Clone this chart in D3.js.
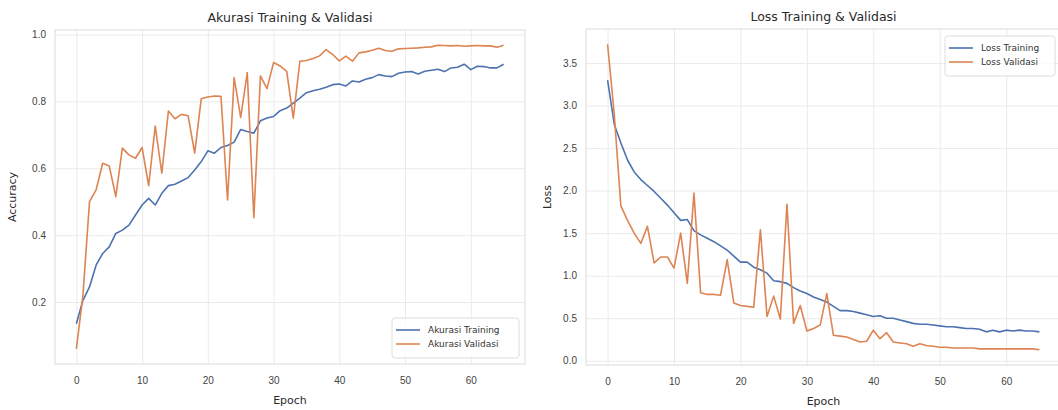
<!DOCTYPE html>
<html>
<head>
<meta charset="utf-8">
<script src="https://cdn.jsdelivr.net/npm/d3@7"></script>
<style>
  body { margin: 0; background: #fff; }
  svg { display: block; font-family: "DejaVu Sans", sans-serif; }
  .grid line { stroke: #ebebeb; stroke-width: 1; }
  .tick text { fill: #444; font-size: 10px; }
  .title { fill: #2a2a2a; font-size: 12.5px; }
  .label { fill: #2a2a2a; font-size: 11px; }
  .legend text { fill: #333; font-size: 9px; }
</style>
</head>
<body>
<svg width="1058" height="410"></svg>
<script>
// Akurasi per epoch (0..65)
const trainAcc = [
  0.135, 0.205, 0.245, 0.31, 0.345, 0.365, 0.405, 0.415, 0.43, 0.46,
  0.49, 0.51, 0.49, 0.525, 0.548, 0.552, 0.562, 0.572, 0.595, 0.62,
  0.652, 0.645, 0.662, 0.668, 0.678, 0.716, 0.71, 0.705, 0.742, 0.75,
  0.755, 0.772, 0.78, 0.795, 0.81, 0.826, 0.832, 0.836, 0.842, 0.85,
  0.852, 0.846, 0.861, 0.858, 0.866, 0.871, 0.88, 0.876, 0.874, 0.884,
  0.888, 0.889, 0.882, 0.89, 0.893, 0.896, 0.889, 0.9, 0.902, 0.911,
  0.895, 0.905, 0.904, 0.9, 0.9, 0.911
];
const valAcc = [
  0.06, 0.22, 0.5, 0.535, 0.615, 0.607, 0.515, 0.66, 0.64, 0.63,
  0.662, 0.548, 0.726, 0.585, 0.771, 0.748, 0.761, 0.757, 0.645, 0.808,
  0.813, 0.816, 0.815, 0.505, 0.871, 0.752, 0.886, 0.452, 0.876, 0.838,
  0.916, 0.906, 0.89, 0.75, 0.92, 0.922, 0.928, 0.936, 0.955, 0.94,
  0.921, 0.935, 0.92, 0.945, 0.948, 0.953, 0.959, 0.952, 0.95, 0.957,
  0.958, 0.959, 0.96, 0.962, 0.963, 0.968, 0.967, 0.966, 0.967, 0.965,
  0.966, 0.967, 0.966, 0.966, 0.962, 0.968
];
// Loss per epoch
const trainLoss = [
  3.30, 2.78, 2.56, 2.36, 2.22, 2.13, 2.06, 1.99, 1.91, 1.83,
  1.74, 1.65, 1.66, 1.53, 1.48, 1.44, 1.40, 1.35, 1.30, 1.23,
  1.16, 1.16, 1.10, 1.07, 1.03, 0.94, 0.93, 0.91, 0.86, 0.82,
  0.79, 0.75, 0.72, 0.69, 0.64, 0.59, 0.59, 0.58, 0.56, 0.54,
  0.52, 0.53, 0.50, 0.50, 0.48, 0.46, 0.44, 0.43, 0.43, 0.42,
  0.41, 0.40, 0.40, 0.39, 0.38, 0.38, 0.37, 0.34, 0.36, 0.34,
  0.36, 0.35, 0.36, 0.35, 0.35, 0.34
];
const valLoss = [
  3.72, 2.90, 1.82, 1.65, 1.50, 1.38, 1.58, 1.15, 1.22, 1.22,
  1.09, 1.50, 0.91, 1.97, 0.80, 0.78, 0.78, 0.77, 1.19, 0.68,
  0.65, 0.64, 0.63, 1.54, 0.52, 0.76, 0.49, 1.84, 0.44, 0.65,
  0.35, 0.38, 0.42, 0.79, 0.30, 0.29, 0.28, 0.25, 0.22, 0.23,
  0.36, 0.26, 0.33, 0.22, 0.21, 0.20, 0.17, 0.20, 0.18, 0.17,
  0.16, 0.16, 0.15, 0.15, 0.15, 0.15, 0.14, 0.14, 0.14, 0.14,
  0.14, 0.14, 0.14, 0.14, 0.14, 0.13
];

const xTicks = [0, 10, 20, 30, 40, 50, 60];
const accTicks = [0.2, 0.4, 0.6, 0.8, 1.0];
const lossTicks = [0.0, 0.5, 1.0, 1.5, 2.0, 2.5, 3.0, 3.5];

const blue = '#4c72b0';
const orange = '#dd8452';

const svg = d3.select('svg');

// matplotlib-like 5% padding
const padded = (arrs) => {
  const lo = d3.min(arrs, a => d3.min(a));
  const hi = d3.max(arrs, a => d3.max(a));
  const m = (hi - lo) * 0.05;
  return [lo - m, hi + m];
};

const drawPanel = (opt) => {
  const n = opt.series[0].values.length;
  const xScale = d3.scaleLinear()
    .domain([-(n - 1) * 0.05, (n - 1) * 1.05])
    .range([opt.left, opt.right]);
  const yScale = d3.scaleLinear()
    .domain(padded(opt.series.map(s => s.values)))
    .range([opt.bottom, opt.top]);

  const w = opt.right - opt.left;
  const h = opt.bottom - opt.top;

  const chart = svg.append('g');

  // grid
  chart.append('g')
    .attr('class', 'grid')
    .attr('transform', `translate(0, ${opt.bottom})`)
    .call(d3.axisBottom(xScale).tickValues(xTicks).tickSize(-h).tickFormat(''))
    .call(g => g.select('.domain').remove());
  chart.append('g')
    .attr('class', 'grid')
    .attr('transform', `translate(${opt.left}, 0)`)
    .call(d3.axisLeft(yScale).tickValues(opt.yTicks).tickSize(-w).tickFormat(''))
    .call(g => g.select('.domain').remove());

  // frame
  chart.append('rect')
    .attr('x', opt.left)
    .attr('y', opt.top)
    .attr('width', w)
    .attr('height', h)
    .attr('fill', 'none')
    .attr('stroke', '#dcdcdc')
    .attr('stroke-width', 1);

  // tick labels
  chart.append('g')
    .attr('transform', `translate(0, ${opt.bottom})`)
    .call(d3.axisBottom(xScale).tickValues(xTicks).tickSize(0).tickPadding(13).tickFormat(d3.format('d')))
    .call(g => g.select('.domain').remove());
  chart.append('g')
    .attr('transform', `translate(${opt.left}, 0)`)
    .call(d3.axisLeft(yScale).tickValues(opt.yTicks).tickSize(0).tickPadding(9).tickFormat(d3.format('.1f')))
    .call(g => g.select('.domain').remove());

  // lines
  const line = d3.line()
    .x((d, i) => xScale(i))
    .y(d => yScale(d));

  opt.series.forEach(s => {
    chart.append('path')
      .datum(s.values)
      .attr('fill', 'none')
      .attr('stroke', s.color)
      .attr('stroke-width', 1.6)
      .attr('stroke-linejoin', 'round')
      .attr('d', line);
  });

  // titles and labels
  chart.append('text')
    .attr('class', 'title')
    .attr('x', (opt.left + opt.right) / 2)
    .attr('y', opt.top - 8)
    .attr('text-anchor', 'middle')
    .text(opt.title);

  chart.append('text')
    .attr('class', 'label')
    .attr('x', (opt.left + opt.right) / 2)
    .attr('y', opt.bottom + 40)
    .attr('text-anchor', 'middle')
    .text('Epoch');

  chart.append('text')
    .attr('class', 'label')
    .attr('transform', `translate(${opt.yLabelX}, ${(opt.top + opt.bottom) / 2}) rotate(-90)`)
    .attr('text-anchor', 'middle')
    .text(opt.yLabel);

  // legend
  const lg = chart.append('g')
    .attr('class', 'legend')
    .attr('transform', `translate(${opt.legend.x}, ${opt.legend.y})`);
  lg.append('rect')
    .attr('width', opt.legend.w)
    .attr('height', 40)
    .attr('rx', 3)
    .attr('fill', 'rgba(255,255,255,0.8)')
    .attr('stroke', '#dcdcdc');
  opt.series.forEach((s, i) => {
    const yy = 12 + i * 14;
    lg.append('line')
      .attr('x1', 4).attr('x2', 28)
      .attr('y1', yy).attr('y2', yy)
      .attr('stroke', s.color)
      .attr('stroke-width', 1.6);
    lg.append('text')
      .attr('x', 36)
      .attr('y', yy + 3)
      .text(s.name);
  });
};

drawPanel({
  left: 55, right: 525, top: 30, bottom: 364,
  title: 'Akurasi Training & Validasi',
  yLabel: 'Accuracy', yLabelX: 16,
  yTicks: accTicks,
  series: [
    {name: 'Akurasi Training', values: trainAcc, color: blue},
    {name: 'Akurasi Validasi', values: valAcc, color: orange}
  ],
  legend: {x: 392, y: 318, w: 127}
});

drawPanel({
  left: 586, right: 1061, top: 29, bottom: 365,
  title: 'Loss Training & Validasi',
  yLabel: 'Loss', yLabelX: 551,
  yTicks: lossTicks,
  series: [
    {name: 'Loss Training', values: trainLoss, color: blue},
    {name: 'Loss Validasi', values: valLoss, color: orange}
  ],
  legend: {x: 945, y: 36, w: 110}
});
</script>
</body>
</html>
